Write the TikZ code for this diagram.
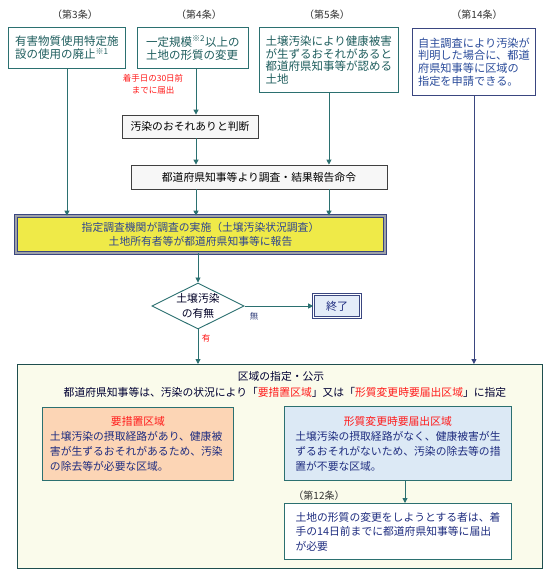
\documentclass[tikz,border=0pt]{standalone}
\usepackage{fontspec}
\setmainfont{Noto Sans CJK JP}
\usetikzlibrary{arrows.meta,shapes.geometric}
\definecolor{tealline}{HTML}{2B7070}
\definecolor{tealtext}{HTML}{1F5E5E}
\definecolor{navyline}{HTML}{3A4680}
\definecolor{bluetext}{HTML}{2B4C9B}
\definecolor{navytext}{HTML}{1F2D80}
\definecolor{yellowfill}{HTML}{EFEA48}
\definecolor{yellowtext}{HTML}{2F4590}
\definecolor{bandgray}{HTML}{9EA2A8}
\definecolor{cream}{HTML}{FAFBEB}
\definecolor{peach}{HTML}{FCD5B5}
\definecolor{lightblue}{HTML}{DCE9F5}
\definecolor{endfill}{HTML}{E4ECF8}
\definecolor{redtext}{HTML}{FF1A1A}
\definecolor{hdrtext}{HTML}{333333}
\begin{document}
\begin{tikzpicture}[x=1pt,y=-1pt,
  hdr/.style={text=hdrtext,font=\fontsize{10}{12}\selectfont,inner sep=0pt},
  topbox/.style={draw=tealline,line width=0.9pt,fill=white,text=tealtext,align=left,anchor=north west,inner sep=0pt,font=\fontsize{11.5}{12.8}\selectfont},
  plainbox/.style={draw=black!75,line width=0.8pt,fill=black!3,text=black,inner sep=0pt,font=\fontsize{10.8}{13}\selectfont},
  innerbox/.style={draw=tealline,line width=0.9pt,text=navytext,align=left,anchor=north west,inner sep=0pt,font=\fontsize{10.8}{15}\selectfont},
  conn/.style={draw=tealline,line width=0.9pt,-{Triangle[length=5pt,width=5pt]}},
  nconn/.style={draw=navyline,line width=0.9pt,-{Triangle[length=5pt,width=5pt]}},
  lbl/.style={inner sep=0pt,font=\fontsize{8.5}{10}\selectfont}]
\useasboundingbox (0,0) rectangle (550,576);
\fill[white] (0,0) rectangle (550,576);

% headers
\node[hdr] (h3) at (75,15) {（第3条）};
\node[hdr] (h4) at (199,15) {（第4条）};
\node[hdr] (h5) at (327,15) {（第5条）};
\node[hdr] (h14) at (477,15) {（第14条）};

% top boxes
\node[topbox,minimum width=117pt,minimum height=41pt] (b3) at (8,27) {有害物質使用特定施\\設の使用の廃止\textsuperscript{※1}};
\node[topbox,minimum width=111pt,minimum height=41pt] (b4) at (137,27) {一定規模\textsuperscript{※2}以上の\\土地の形質の変更};
\node[topbox,minimum width=139pt,minimum height=65pt] (b5) at (259,27) {土壌汚染により健康被害\\が生ずるおそれがあると\\都道府県知事等が認める\\土地};
\node[topbox,draw=navyline,text=bluetext,minimum width=123pt,minimum height=67pt,font=\fontsize{11.2}{12.8}\selectfont] (b14) at (412,28) {自主調査により汚染が\\判明した場合に、都道\\府県知事等に区域の\\指定を申請できる。};

\node[lbl,text=redtext,align=center,font=\fontsize{8.5}{11.5}\selectfont] (note4) at (153,84) {着手日の30日前\\までに届出};

% middle boxes
\node[plainbox,minimum width=136pt,minimum height=23pt] (judge) at (190,126.5) {汚染のおそれありと判断};
\node[plainbox,minimum width=256pt,minimum height=24pt] (order) at (259,177) {都道府県知事等より調査・結果報告命令};

\node[draw=navyline,line width=0.7pt,double=bandgray,double distance=2.2pt,fill=yellowfill,text=yellowtext,align=center,
  minimum width=369pt,minimum height=37pt,inner sep=0pt,font=\fontsize{10.8}{14}\selectfont] (survey) at (200.5,234.5)
  {指定調査機関が調査の実施（土壌汚染状況調査）\\土地所有者等が都道府県知事等に報告};

\node[diamond,aspect=2,draw=tealline,line width=0.9pt,fill=white,inner sep=0pt,align=center,text=black!85!blue,
  font=\fontsize{10.8}{14.5}\selectfont] (dec) at (198,306) {土壌汚染\\の有無};

\node[draw=navyline,line width=0.7pt,double=white,double distance=1pt,fill=endfill,text=navytext,inner sep=0pt,
  minimum width=47pt,minimum height=23pt,font=\fontsize{11}{13}\selectfont] (end) at (337,306) {終了};

\node[lbl,text=navyline] (nolbl) at (254,316) {無};
\node[lbl,text=redtext] (yeslbl) at (206,338) {有};

% region box
\node[draw=tealline!70!black,line width=1pt,fill=cream,minimum width=525pt,minimum height=204pt,anchor=north west,inner sep=0pt] (area) at (17,364) {};
\node[inner sep=0pt,text=black!80!blue,font=\fontsize{10.8}{13}\selectfont] (areat) at (281,376) {区域の指定・公示};
\node[inner sep=0pt,text=black!80!blue,font=\fontsize{10.8}{13}\selectfont] (areal) at (285,392)
  {都道府県知事等は、汚染の状況により「\textcolor{redtext}{要措置区域}」又は「\textcolor{redtext}{形質変更時要届出区域}」に指定};

\node[innerbox,fill=peach,minimum width=191pt,minimum height=73pt] (req) at (42,407)
  {\makebox[176pt]{\textcolor{redtext}{要措置区域}}\\土壌汚染の摂取経路があり、健康被\\害が生ずるおそれがあるため、汚染\\の除去等が必要な区域。};
\node[innerbox,fill=lightblue,minimum width=227pt,minimum height=74pt] (notice) at (284,406)
  {\makebox[205pt]{\textcolor{redtext}{形質変更時要届出区域}}\\土壌汚染の摂取経路がなく、健康被害が生\\ずるおそれがないため、汚染の除去等の措\\置が不要な区域。};
\node[hdr] (h12) at (319,496) {（第12条）};
\node[innerbox,fill=white,minimum width=227pt,minimum height=56pt,font=\fontsize{10.8}{14.5}\selectfont] (art12) at (284,503)
  {土地の形質の変更をしようとする者は、着\\手の14日前までに都道府県知事等に届出\\が必要};

% connectors
\coordinate (col2) at (196,0);
\draw[conn] (b3.south) -- (b3.south |- survey.north);
\draw[conn] (b4.south -| col2) -- (col2 |- judge.north);
\draw[conn] (col2 |- judge.south) -- (col2 |- order.north);
\draw[conn] (col2 |- order.south) -- (col2 |- survey.north);
\draw[conn] (b5.south) -- (b5.south |- order.north);
\draw[conn] (b5.south |- order.south) -- (b5.south |- survey.north);
\draw[nconn] (b14.south) -- (b14.south |- area.north);
\draw[conn] (dec.north |- survey.south) -- (dec.north);
\draw[conn] (dec.east) -- (end.west);
\draw[conn] (dec.south) -- (dec.south |- area.north);
\draw[conn] (notice.south -| 405,0) -- (art12.north -| 405,0);
\end{tikzpicture}
\end{document}
